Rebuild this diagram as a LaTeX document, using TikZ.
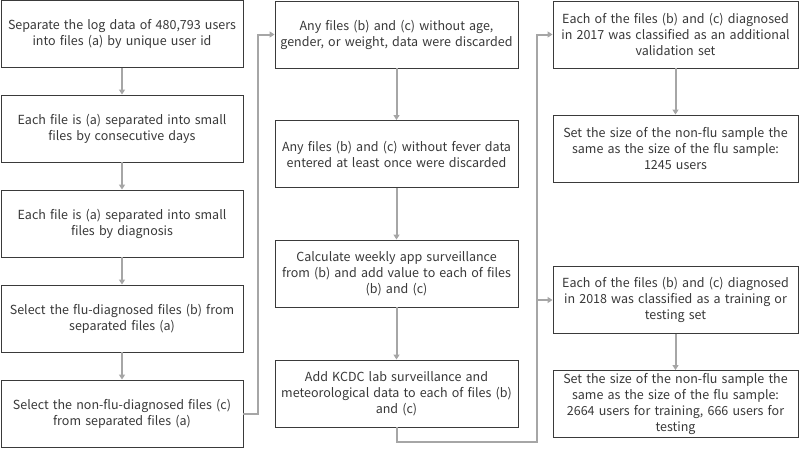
\documentclass[tikz,border=0pt]{standalone}
\usepackage{fontspec}
\newfontfamily\krfont{Noto Sans CJK KR}
\usetikzlibrary{arrows.meta}
\definecolor{txt}{HTML}{383838}
\definecolor{edge}{HTML}{3A3A3A}
\definecolor{conn}{HTML}{A6A6A6}
\tikzset{
  box/.style={draw=edge, line width=0.9pt, rectangle, align=center, inner sep=0pt,
    text=txt, font=\krfont\fontsize{12.5}{16}\selectfont},
  col1/.style={box, minimum width=242pt, minimum height=67pt, text width=238pt},
  col2/.style={box, minimum width=243pt, minimum height=67pt, text width=239pt},
  col3/.style={box, minimum width=245pt, minimum height=67pt, text width=241pt},
  arr/.style={draw=conn, line width=2pt, -{Triangle[length=5pt,width=6pt]}},
}
\begin{document}
\begin{tikzpicture}[x=1pt,y=-1pt]
\useasboundingbox (0,0) rectangle (800,455);
% column 1
\node[col1] (a1) at (122,34) {Separate the log data of 480,793 users\\into files (a) by unique user id};
\node[col1] (a2) at (122,128.5) {Each file is (a) separated into small\\files by consecutive days};
\node[col1] (a3) at (122,223.5) {Each file is (a) separated into small\\files by diagnosis};
\node[col1] (a4) at (122,318.5) {Select the flu-diagnosed files (b) from\\separated files (a)};
\node[col1] (a5) at (122,413.5) {Select the non-flu-diagnosed files (c)\\from separated files (a)};
% column 2
\node[col2] (b1) at (396.5,34.5) {Any files (b) and (c) without age,\\gender, or weight, data were discarded};
\node[col2] (b2) at (396.5,154) {Any files (b) and (c) without fever data\\entered at least once were discarded};
\node[col2] (b3) at (396.5,273.5) {Calculate weekly app surveillance\\from (b) and add value to each of files\\(b) and (c)};
\node[col2] (b4) at (396.5,393.5) {Add KCDC lab surveillance and\\meteorological data to each of files (b)\\and (c)};
% column 3
\node[col3] (c1) at (675.5,34.5) {Each of the files (b) and (c) diagnosed\\in 2017 was classified as an additional\\validation set};
\node[col3] (c2) at (675.5,148.5) {Set the size of the non-flu sample the\\same as the size of the flu sample:\\1245 users};
\node[col3] (c3) at (675.5,300) {Each of the files (b) and (c) diagnosed\\in 2018 was classified as a training or\\testing set};
\node[col3] (c4) at (675.5,404) {Set the size of the non-flu sample the\\same as the size of the flu sample:\\2664 users for training, 666 users for\\testing};
% connectors
\draw[arr] (a1) -- (a2);
\draw[arr] (a2) -- (a3);
\draw[arr] (a3) -- (a4);
\draw[arr] (a4) -- (a5);
\draw[arr] (a5.east) -- (258,413.5) |- (b1.west);
\draw[arr] (b1) -- (b2);
\draw[arr] (b2) -- (b3);
\draw[arr] (b3) -- (b4);
\coordinate (jn) at (537,442);
\draw[arr] (b4.south) |- (jn) |- (c1.west);
\draw[arr] (537,300) -- (c3.west);
\draw[arr] (c1) -- (c2);
\draw[arr] (c3) -- (c4);
\end{tikzpicture}
\end{document}
